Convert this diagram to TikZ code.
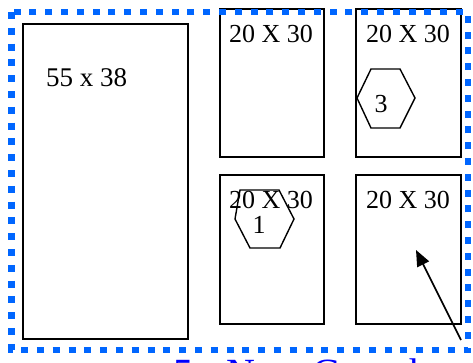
\documentclass[tikz,border=0pt]{standalone}
\usepackage{fontspec}
\setmainfont{Liberation Serif}
\usetikzlibrary{arrows.meta}
\definecolor{plotblue}{RGB}{0,102,255}
\definecolor{titleblue}{RGB}{0,0,255}

\begin{document}
\begin{tikzpicture}[x=1pt,y=-1pt,>=Stealth]
  % --- styles ---
  \tikzset{
    bed/.style={draw=black,line width=1.8pt},
    hexbed/.style={draw=black,line width=1.4pt},
    size/.style={inner sep=0pt,anchor=base west,font=\fontsize{26}{30}\selectfont},
    num/.style={inner sep=0pt,anchor=base,font=\fontsize{26}{30}\selectfont},
    border/.style={plotblue,line width=6.5pt,dash pattern=on 7pt off 8.8pt},
  }
  \useasboundingbox (0,0) rectangle (473,362);

  % big bed
  \draw[bed] (23,24) rectangle (188,339);
  \node[size,font=\fontsize{27}{31}\selectfont] (big) at (46,86) {55 x 38};

  % small beds, two columns
  \draw[bed] (220,9) rectangle (324,157);
  \draw[bed] (356,9) rectangle (461,157);
  \draw[bed] (220,175) rectangle (324,324);
  \draw[bed] (356,175) rectangle (461,324);
  \node[size] (ul) at (229,42) {20 X 30};
  \node[size] (ur) at (366,42) {20 X 30};
  \node[size] (ll) at (229,208) {20 X 30};
  \node[size] (lr) at (366,208) {20 X 30};

  % hexagons
  \draw[hexbed] (371,69) -- (400,69) -- (415,98) -- (400,128)
    -- (371,128) -- (357,98) -- cycle;
  \node[num] (three) at (381,112) {3};
  \draw[hexbed] (240,190) -- (279,190) -- (294,219) -- (280,248)
    -- (250,248) -- (235,219) -- cycle;
  \node[num] (one) at (259,233) {1};

  % pointer
  \coordinate (tail) at (461,340);
  \coordinate (tip) at (416,250);
  \draw[line width=1.6pt,-{Triangle[length=16pt,width=13pt]}] (tail) -- (tip);

  % dotted boundary
  \draw[border] (11.5,12) rectangle (468,350);

  % title, cut off at the bottom
  \node[inner sep=0pt,anchor=base west,titleblue,
    font=\fontsize{40}{44}\selectfont] (title) at (173,386) {5 - New Greenhouse};
\end{tikzpicture}
\end{document}
